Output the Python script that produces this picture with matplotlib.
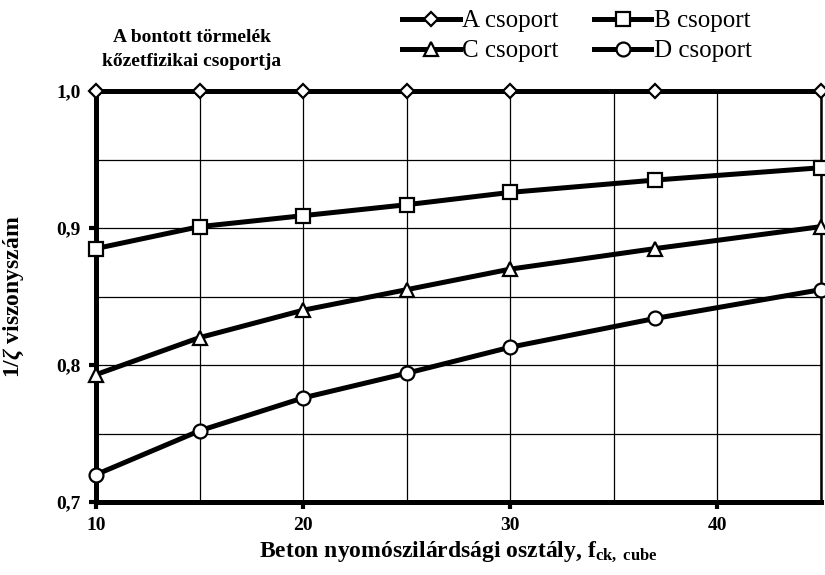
import matplotlib
matplotlib.use("Agg")
import matplotlib.pyplot as plt

# Data
fck = [10, 15, 20, 25, 30, 37, 45]
csoport_a = [1.0, 1.0, 1.0, 1.0, 1.0, 1.0, 1.0]
csoport_b = [0.885, 0.901, 0.909, 0.917, 0.926, 0.935, 0.944]
csoport_c = [0.793, 0.820, 0.840, 0.855, 0.870, 0.885, 0.901]
csoport_d = [0.720, 0.752, 0.776, 0.794, 0.813, 0.834, 0.855]

series_names = ["A csoport", "B csoport", "C csoport", "D csoport"]
x_ticks = [10, 20, 30, 40]
x_tick_labels = ["10", "20", "30", "40"]
y_ticks = [0.7, 0.8, 0.9, 1.0]
y_tick_labels = ["0,7", "0,8", "0,9", "1,0"]

plt.rcParams["font.family"] = ["Liberation Serif", "DejaVu Serif"]
plt.rcParams["mathtext.fontset"] = "custom"
plt.rcParams["mathtext.rm"] = "Liberation Serif:bold"
plt.rcParams["mathtext.bf"] = "Liberation Serif:bold"
plt.rcParams["mathtext.it"] = "Liberation Serif:bold:italic"

fig = plt.figure(figsize=(8.25, 5.75), dpi=100)
ax = fig.add_axes([96 / 825, 1 - 502 / 575, (821 - 96) / 825, (502 - 91) / 575])

lw = 3.6
mk = dict(markerfacecolor="white", markeredgecolor="black", markeredgewidth=1.6)
la, = ax.plot(fck, csoport_a, color="black", lw=lw, marker="D", markersize=7, clip_on=False, zorder=5, **mk)
lb, = ax.plot(fck, csoport_b, color="black", lw=lw, marker="s", markersize=10, clip_on=False, zorder=5, **mk)
lc, = ax.plot(fck, csoport_c, color="black", lw=lw, marker="^", markersize=9.5, clip_on=False, zorder=5, **mk)
ld, = ax.plot(fck, csoport_d, color="black", lw=lw, marker="o", markersize=10, clip_on=False, zorder=5, **mk)

ax.set_xlim(10, 45)
ax.set_ylim(0.7, 1.0)
ax.set_xticks(x_ticks)
ax.set_xticklabels(x_tick_labels, fontweight="bold", fontsize=14)
ax.set_yticks(y_ticks)
ax.set_yticklabels(y_tick_labels, fontweight="bold", fontsize=14)
ax.set_xticks([15, 25, 35, 45], minor=True)
ax.set_yticks([0.75, 0.85, 0.95], minor=True)
ax.tick_params(which="major", direction="out", length=5, width=3, pad=6)
ax.tick_params(which="minor", length=0)
ax.grid(True, which="both", color="black", lw=0.9)

for side in ["left", "bottom", "top"]:
    ax.spines[side].set_linewidth(lw)
ax.spines["right"].set_linewidth(1.8)

ax.set_xlabel(r"Beton nyomószilárdsági osztály, f$_{\mathrm{ck,\ cube}}$",
              fontweight="bold", fontsize=17, labelpad=4)
ax.set_ylabel(r"1/$\zeta$ viszonyszám", fontweight="bold", fontsize=17)
ax.yaxis.set_label_coords(-70 / 725, 0.5)

fig.text(192 / 825, 1 - 37 / 575, "A bontott törmelék", ha="center", va="center",
         fontweight="bold", fontsize=14)
fig.text(192 / 825, 1 - 62 / 575, "kőzetfizikai csoportja", ha="center", va="center",
         fontweight="bold", fontsize=14)

# column-wise fill: A, C in first column, B, D in second
fig.legend([la, lc, lb, ld],
           [series_names[0], series_names[2], series_names[1], series_names[3]],
           loc="upper left", bbox_to_anchor=(402 / 825, 1 - 10 / 575), ncol=2,
           frameon=False, fontsize=18, handlelength=2.3, handletextpad=0.12,
           columnspacing=1.4, labelspacing=0.3, borderpad=0, borderaxespad=0)

fig.savefig("out.png", dpi=100)
